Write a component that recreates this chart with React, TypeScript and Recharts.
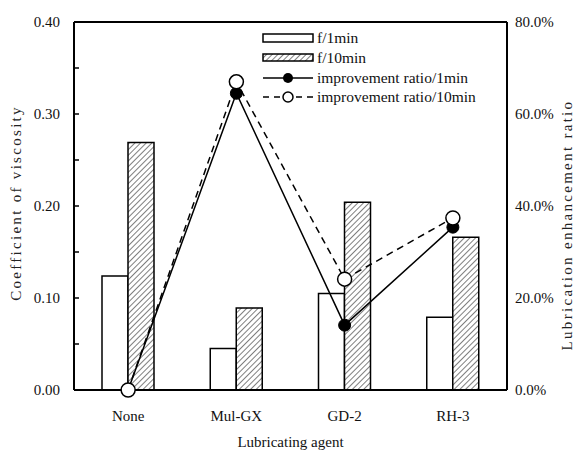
import { ComposedChart, Bar, Line, XAxis, YAxis, ReferenceLine } from "recharts";

const agents = ["None", "Mul-GX", "GD-2", "RH-3"];
const f1min = [0.124, 0.045, 0.105, 0.079];
const f10min = [0.269, 0.089, 0.204, 0.166];
const ratio1min = [0, 64.5, 14.1, 35.4];
const ratio10min = [0, 67.0, 24.1, 37.4];
const leftTicks = [0, 0.05, 0.1, 0.15, 0.2, 0.25, 0.3, 0.35, 0.4];
const rightTicks = [0, 20, 40, 60, 80];

const data = agents.map((name, i) => ({
  name,
  f1: f1min[i],
  f10: f10min[i],
  r1: ratio1min[i],
  r10: ratio10min[i],
}));

const FONT = "'Liberation Serif', 'Times New Roman', serif";

const LeftTick = ({ x, y, payload }: any) => {
  const v = payload.value as number;
  const major = Math.round(v * 100) % 10 === 0;
  return (
    <g>
      <line x1={x} y1={y} x2={x + 5} y2={y} stroke="#000" strokeWidth={1.5} />
      {major && (
        <text x={x - 14} y={y} dy="0.35em" textAnchor="end" fontSize={15} fontFamily={FONT} fill="#111">
          {v.toFixed(2)}
        </text>
      )}
    </g>
  );
};

const AxisTitle = ({ x, y, text }: { x: number; y: number; text: string }) => (
  <text
    x={x}
    y={y}
    transform={`rotate(-90 ${x} ${y})`}
    textAnchor="middle"
    dy="0.35em"
    fontSize={15}
    fontFamily={FONT}
    fill="#222"
    letterSpacing={2.3}
  >
    {text}
  </text>
);

const LegendBox = () => (
  <svg width={235} height={82} style={{ display: "block" }}>
    <rect x={1} y={4} width={50} height={8} fill="#fff" stroke="#000" strokeWidth={1.5} />
    <text x={55} y={8} dy="0.35em" fontSize={15.5} fontFamily={FONT} fill="#111">f/1min</text>
    <rect x={1} y={24} width={50} height={7} fill="url(#hatch)" stroke="#000" strokeWidth={1.5} />
    <text x={55} y={28} dy="0.35em" fontSize={15.5} fontFamily={FONT} fill="#111">f/10min</text>
    <line x1={1} y1={48} x2={51} y2={48} stroke="#000" strokeWidth={1.5} />
    <circle cx={26} cy={48} r={5} fill="#000" />
    <text x={55} y={48} dy="0.35em" fontSize={15.5} fontFamily={FONT} fill="#111">improvement ratio/1min</text>
    <line x1={1} y1={67} x2={51} y2={67} stroke="#000" strokeWidth={1.5} strokeDasharray="6 5" />
    <circle cx={26} cy={67} r={5} fill="#fff" stroke="#000" strokeWidth={1.5} />
    <text x={55} y={67} dy="0.35em" fontSize={15.5} fontFamily={FONT} fill="#111">improvement ratio/10min</text>
  </svg>
);

export default function App() {
  return (
    <div style={{ position: "absolute", left: 0, top: 0, background: "#fff", fontFamily: FONT }}>
      <ComposedChart
        width={581}
        height={455}
        data={data}
        margin={{ top: 22, right: 0, left: 0, bottom: 0 }}
        barGap={0}
      >
        <defs>
          <pattern id="hatch" width="4" height="4" patternUnits="userSpaceOnUse" patternTransform="rotate(45)">
            <rect width="4" height="4" fill="#fff" />
            <line x1="0" y1="0" x2="0" y2="4" stroke="#000" strokeWidth="1" />
          </pattern>
        </defs>
        <XAxis
          dataKey="name"
          height={65}
          axisLine={{ stroke: "#000", strokeWidth: 2 }}
          tickLine={false}
          tickMargin={14}
          tick={{ fontSize: 15, fontFamily: FONT, fill: "#111" }}
          label={{
            value: "Lubricating agent",
            position: "insideBottom",
            offset: 8,
            fontSize: 15,
            fontFamily: FONT,
            fill: "#111",
          }}
        />
        <YAxis
          yAxisId="left"
          orientation="left"
          width={74}
          domain={[0, 0.4]}
          ticks={leftTicks}
          interval={0}
          tickLine={false}
          tickSize={0}
          tickMargin={0}
          axisLine={{ stroke: "#000", strokeWidth: 2 }}
          tick={<LeftTick />}
          label={{ content: () => <AxisTitle x={16} y={203} text="Coefficient of viscosity" /> }}
        />
        <YAxis
          yAxisId="right"
          orientation="right"
          width={74}
          domain={[0, 80]}
          ticks={rightTicks}
          interval={0}
          tickLine={false}
          tickSize={0}
          tickMargin={8}
          axisLine={{ stroke: "#000", strokeWidth: 2 }}
          tickFormatter={(v: number) => `${v.toFixed(1)}%`}
          tick={{ fontSize: 15, fontFamily: FONT, fill: "#111", textAnchor: "start" }}
          label={{ content: () => <AxisTitle x={567} y={225} text="Lubrication enhancement ratio" /> }}
        />
        <ReferenceLine yAxisId="left" y={0.4} stroke="#000" strokeWidth={2} />
        <Bar yAxisId="left" dataKey="f1" name="f/1min" barSize={26} fill="#fff" stroke="#000" strokeWidth={1.5} isAnimationActive={false} />
        <Bar yAxisId="left" dataKey="f10" name="f/10min" barSize={26} fill="url(#hatch)" stroke="#000" strokeWidth={1.5} isAnimationActive={false} />
        <Line
          yAxisId="right"
          dataKey="r1"
          name="improvement ratio/1min"
          stroke="#000"
          strokeWidth={1.5}
          dot={{ r: 6, fill: "#000", stroke: "#000", strokeWidth: 1 }}
          isAnimationActive={false}
        />
        <Line
          yAxisId="right"
          dataKey="r10"
          name="improvement ratio/10min"
          stroke="#000"
          strokeWidth={1.5}
          strokeDasharray="7 5"
          dot={{ r: 7, fill: "#fff", stroke: "#000", strokeWidth: 1.5, strokeDasharray: "0" }}
          isAnimationActive={false}
        />
      </ComposedChart>
      <div style={{ position: "absolute", left: 262, top: 30 }}>
        <LegendBox />
      </div>
    </div>
  );
}
